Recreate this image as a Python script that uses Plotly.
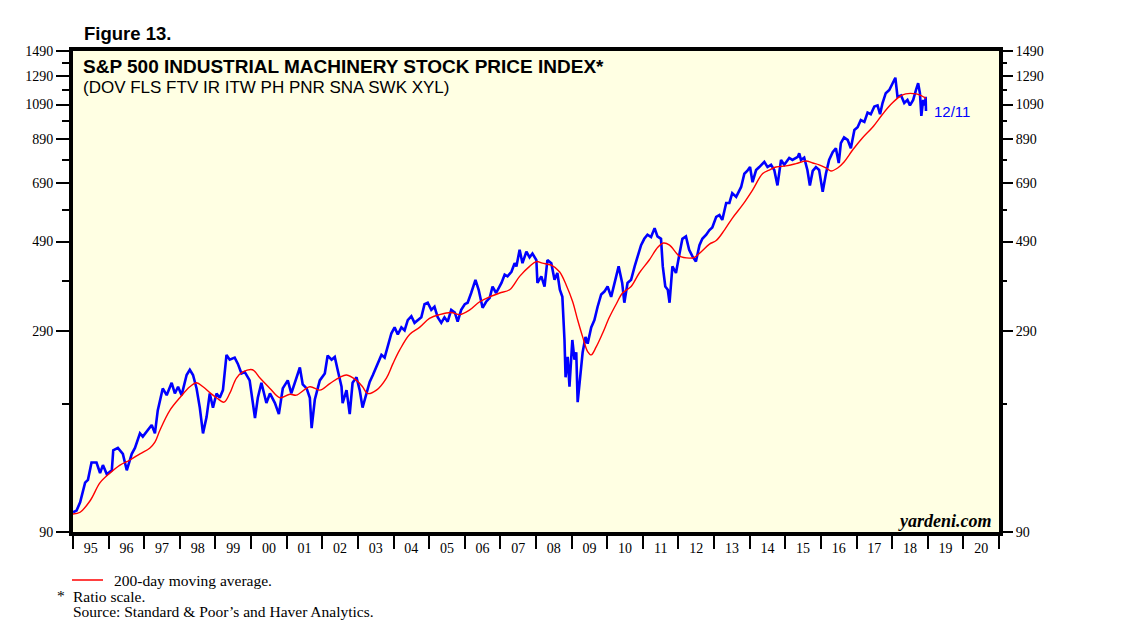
import plotly.graph_objects as go
import math

# ---- data (decimal years, index values) ----
price_t = [1995.00, 1995.10, 1995.20, 1995.34, 1995.42, 1995.52, 1995.66, 1995.76, 1995.84, 1995.95,
           1996.09, 1996.13, 1996.26, 1996.40, 1996.51, 1996.65, 1996.74, 1996.88, 1996.96, 1997.10,
           1997.21, 1997.30, 1997.38, 1997.52, 1997.63, 1997.77, 1997.86, 1997.95, 1998.05, 1998.19,
           1998.28, 1998.37, 1998.47, 1998.56, 1998.65, 1998.75, 1998.84, 1998.93, 1999.03, 1999.12,
           1999.21, 1999.31, 1999.40, 1999.54, 1999.63, 1999.73, 1999.82, 1999.96, 2000.11, 2000.19,
           2000.29, 2000.43, 2000.53, 2000.67, 2000.78, 2000.89, 2001.03, 2001.13, 2001.27, 2001.37,
           2001.45, 2001.56, 2001.65, 2001.70, 2001.79, 2001.93, 2002.07, 2002.15, 2002.26, 2002.35,
           2002.43, 2002.54, 2002.57, 2002.68, 2002.77, 2002.85, 2002.96, 2003.05, 2003.13, 2003.24,
           2003.33, 2003.42, 2003.56, 2003.66, 2003.75, 2003.84, 2003.94, 2004.03, 2004.12, 2004.22,
           2004.31, 2004.40, 2004.50, 2004.59, 2004.68, 2004.78, 2004.87, 2004.96, 2005.06, 2005.15,
           2005.24, 2005.34, 2005.43, 2005.52, 2005.62, 2005.72, 2005.80, 2005.90, 2006.00, 2006.08,
           2006.18, 2006.30, 2006.39, 2006.50, 2006.60, 2006.70, 2006.78, 2006.88, 2007.03, 2007.12,
           2007.20, 2007.31, 2007.40, 2007.45, 2007.54, 2007.62, 2007.73, 2007.82, 2007.90, 2008.01,
           2008.04, 2008.15, 2008.24, 2008.32, 2008.43, 2008.52, 2008.60, 2008.67, 2008.74, 2008.80,
           2008.83, 2008.89, 2008.94, 2009.02, 2009.08, 2009.13, 2009.17, 2009.24, 2009.31, 2009.39,
           2009.45, 2009.55, 2009.64, 2009.73, 2009.83, 2009.92, 2010.01, 2010.11, 2010.20, 2010.32,
           2010.42, 2010.48, 2010.57, 2010.67, 2010.77, 2010.85, 2010.95, 2011.04, 2011.13, 2011.23,
           2011.33, 2011.41, 2011.51, 2011.56, 2011.63, 2011.70, 2011.75, 2011.83, 2011.93, 2012.03,
           2012.11, 2012.21, 2012.30, 2012.39, 2012.49, 2012.59, 2012.67, 2012.78, 2012.87, 2012.95,
           2013.06, 2013.15, 2013.23, 2013.34, 2013.43, 2013.51, 2013.62, 2013.76, 2013.85, 2013.93,
           2014.01, 2014.08, 2014.18, 2014.27, 2014.41, 2014.50, 2014.60, 2014.69, 2014.78, 2014.88,
           2014.97, 2015.11, 2015.20, 2015.35, 2015.39, 2015.44, 2015.53, 2015.62, 2015.69, 2015.77,
           2015.86, 2015.95, 2016.05, 2016.14, 2016.23, 2016.33, 2016.42, 2016.50, 2016.56, 2016.65,
           2016.75, 2016.84, 2016.94, 2017.03, 2017.12, 2017.22, 2017.31, 2017.40, 2017.50, 2017.59,
           2017.66, 2017.73, 2017.82, 2017.92, 2018.01, 2018.09, 2018.15, 2018.25, 2018.34, 2018.43,
           2018.50, 2018.59, 2018.67, 2018.73, 2018.78, 2018.82, 2018.87, 2018.92, 2018.94, 2018.95]
price_v = [101, 102, 107, 120, 122, 135, 135, 127, 133, 126,
           129, 145, 147, 142, 129, 142, 147, 160, 157, 163,
           168, 160, 183, 208, 200, 215, 202, 210, 200, 225,
           232, 225, 208, 186, 160, 176, 202, 186, 202, 197,
           206, 253, 246, 249, 240, 227, 229, 218, 175, 197,
           215, 191, 202, 191, 179, 208, 218, 202, 222, 235,
           213, 208, 197, 165, 195, 218, 227, 252, 246, 250,
           232, 210, 191, 206, 179, 215, 222, 206, 186, 202,
           216, 225, 241, 253, 249, 265, 287, 297, 285, 297,
           292, 310, 317, 305, 310, 315, 340, 343, 329, 335,
           315, 305, 315, 307, 329, 324, 307, 329, 340, 343,
           363, 392, 370, 333, 345, 353, 377, 363, 385, 404,
           400, 411, 432, 424, 467, 432, 462, 447, 457, 440,
           385, 400, 377, 440, 432, 392, 408, 370, 355, 276,
           222, 250, 210, 276, 246, 257, 192, 227, 257, 281,
           270, 297, 310, 335, 360, 366, 377, 355, 385, 424,
           385, 343, 385, 392, 424, 447, 480, 498, 510, 503,
           530, 505, 498, 424, 377, 370, 343, 424, 408, 457,
           498, 505, 467, 450, 436, 480, 498, 510, 524, 532,
           566, 572, 556, 614, 614, 650, 636, 674, 728, 740,
           757, 693, 744, 757, 780, 757, 767, 744, 680, 789,
           767, 798, 789, 803, 820, 789, 800, 744, 680, 740,
           757, 744, 655, 728, 789, 826, 845, 775, 870, 900,
           887, 845, 940, 955, 996, 985, 1040, 1030, 1078, 1085,
           1030, 1100, 1165, 1187, 1235, 1275, 1140, 1150, 1100, 1120,
           1085, 1120, 1187, 1235, 1165, 1020, 1120, 1085, 1140, 1050]

ma_t = [1995.00, 1995.20, 1995.48, 1995.76, 1996.04, 1996.32, 1996.60, 1996.88, 1997.16, 1997.30,
        1997.44, 1997.72, 1998.00, 1998.28, 1998.47, 1998.65, 1998.84, 1999.03, 1999.24, 1999.40,
        1999.59, 1999.77, 2000.04, 2000.25, 2000.53, 2000.81, 2001.09, 2001.27, 2001.65, 2001.93,
        2002.21, 2002.49, 2002.68, 2002.96, 2003.13, 2003.27, 2003.52, 2003.80, 2003.98, 2004.17,
        2004.45, 2004.73, 2005.01, 2005.29, 2005.62, 2005.86, 2006.14, 2006.42, 2006.70, 2006.98,
        2007.26, 2007.54, 2007.82, 2008.01, 2008.18, 2008.43, 2008.66, 2008.85, 2009.03, 2009.17,
        2009.31, 2009.45, 2009.55, 2009.69, 2009.87, 2010.06, 2010.25, 2010.43, 2010.67, 2010.90,
        2011.18, 2011.42, 2011.58, 2011.75, 2012.03, 2012.31, 2012.45, 2012.64, 2012.87, 2013.06,
        2013.29, 2013.52, 2013.80, 2014.08, 2014.36, 2014.55, 2014.74, 2015.02, 2015.30, 2015.58,
        2015.77, 2015.95, 2016.14, 2016.28, 2016.47, 2016.65, 2016.89, 2017.17, 2017.45, 2017.73,
        2017.96, 2018.20, 2018.38, 2018.67, 2018.80, 2018.95]
ma_v = [100, 101, 108, 120, 127, 133, 137, 142, 147, 152,
        163, 183, 197, 210, 215, 210, 203, 197, 192, 202,
        221, 229, 232, 221, 208, 197, 201, 200, 210, 206,
        214, 222, 225, 218, 210, 202, 206, 221, 240, 260,
        285, 297, 313, 320, 324, 320, 329, 345, 355, 363,
        370, 400, 424, 436, 432, 427, 411, 380, 345, 310,
        281, 258, 253, 265, 287, 315, 340, 363, 377, 408,
        440, 474, 486, 480, 450, 445, 447, 462, 483, 493,
        524, 563, 607, 662, 728, 744, 757, 762, 772, 784,
        775, 767, 753, 740, 753, 780, 836, 898, 955, 1030,
        1090, 1140, 1160, 1160, 1150, 1130]

y_major = [90, 290, 490, 690, 890, 1090, 1290, 1490]
y_minor = [190, 390, 590, 790, 990, 1190, 1390]
year_edges = list(range(1995, 2022))
year_labels = ["95", "96", "97", "98", "99", "00", "01", "02", "03", "04", "05", "06", "07",
               "08", "09", "10", "11", "12", "13", "14", "15", "16", "17", "18", "19", "20"]

yr = [math.log10(90), math.log10(1490)]
SERIF = "Liberation Serif, Times New Roman, serif"
SANS = "Liberation Sans, Arial, sans-serif"

fig = go.Figure()
fig.add_trace(go.Scatter(x=price_t, y=price_v, mode="lines",
                         line=dict(color="#0000FF", width=2.6), hoverinfo="skip"))
fig.add_trace(go.Scatter(x=ma_t, y=ma_v, mode="lines",
                         line=dict(color="#FF0000", width=1.4, shape="spline"), hoverinfo="skip"))
fig.add_trace(go.Scatter(x=[1995], y=[90], yaxis="y2", mode="lines",
                         line=dict(width=0), showlegend=False, hoverinfo="skip"))
fig.add_trace(go.Scatter(x=[1995], y=[90], xaxis="x2", mode="lines",
                         line=dict(width=0), showlegend=False, hoverinfo="skip"))

yaxis_common = dict(type="log", range=yr, tickmode="array", tickvals=y_major,
                    ticktext=[str(v) for v in y_major], ticks="outside", ticklen=13,
                    tickwidth=1.5, tickcolor="black", showgrid=False, zeroline=False,
                    tickfont=dict(family=SERIF, size=14, color="black"),
                    minor=dict(tickmode="array", tickvals=y_minor, ticks="outside",
                               ticklen=7, tickwidth=1.5, tickcolor="black", showgrid=False))

# page offset of the plot div (browser body margin) is ~8px
OFF = 8
L, R, T, B = 73, 999, 51, 532   # plot-area edges in page pixels
fig.update_layout(
    width=1138, height=642, autosize=False,
    margin=dict(l=L - OFF, r=1138 - (R - OFF), t=T - OFF, b=642 - (B - OFF)),
    paper_bgcolor="white", plot_bgcolor="#FFFFE3",
    showlegend=False,
    xaxis=dict(range=[1995, 2021], tickmode="array", tickvals=year_edges,
               showticklabels=False, ticks="outside", ticklen=13, tickwidth=2,
               tickcolor="black", showgrid=False, zeroline=False,
               showline=True, mirror=True, linecolor="black", linewidth=4),
    xaxis2=dict(range=[1995, 2021], overlaying="x", side="bottom", anchor="y",
                tickmode="array", tickvals=[y + 0.5 for y in year_edges[:-1]],
                ticktext=year_labels, ticks="outside", ticklen=3, tickcolor="rgba(0,0,0,0)",
                showgrid=False, zeroline=False, showline=False,
                tickfont=dict(family=SERIF, size=14, color="black")),
    yaxis=dict(**yaxis_common, showline=True, mirror=True, linecolor="black", linewidth=4),
    yaxis2=dict(**yaxis_common, overlaying="y", side="right", anchor="x", showline=False),
)

annotations = [
    dict(text="<b>Figure 13.</b>", x=82, y=33, font=dict(family=SANS, size=18.5, color="black")),
    dict(text="<b>S&P 500 INDUSTRIAL MACHINERY STOCK PRICE INDEX*</b>", x=81, y=66,
         font=dict(family=SANS, size=19, color="black")),
    dict(text="(DOV FLS FTV IR ITW PH PNR SNA SWK XYL)", x=81, y=87,
         font=dict(family=SANS, size=17, color="black")),
    dict(text="12/11", x=932, y=111, font=dict(family=SANS, size=15, color="#0000FF")),
    dict(text="<b><i>yardeni.com</i></b>", x=994, y=521, xanchor="right",
         font=dict(family=SERIF, size=18, color="black")),
    dict(text="200-day moving average.", x=112, y=580, font=dict(family=SERIF, size=15.5, color="black")),
    dict(text="*", x=55, y=595, font=dict(family=SERIF, size=15.5, color="black")),
    dict(text="Ratio scale.", x=71, y=596, font=dict(family=SERIF, size=15.5, color="black")),
    dict(text="Source: Standard & Poor’s and Haver Analytics.", x=71, y=611,
         font=dict(family=SERIF, size=15.5, color="black")),
]

def px2paper(px, py):
    return (px - L) / (R - L), 1 - (py - T) / (B - T)

for a in annotations:
    xp, yp = px2paper(a.pop("x"), a.pop("y"))
    fig.add_annotation(x=xp, y=yp, xref="paper", yref="paper", showarrow=False,
                       xanchor=a.pop("xanchor", "left"), yanchor="middle", **a)

x0, y0 = px2paper(72, 580)
x1, _ = px2paper(103, 580)
fig.add_shape(type="line", xref="paper", yref="paper", x0=x0, x1=x1, y0=y0, y1=y0,
              line=dict(color="#FF0000", width=1.5))

fig.write_html("out.html")
